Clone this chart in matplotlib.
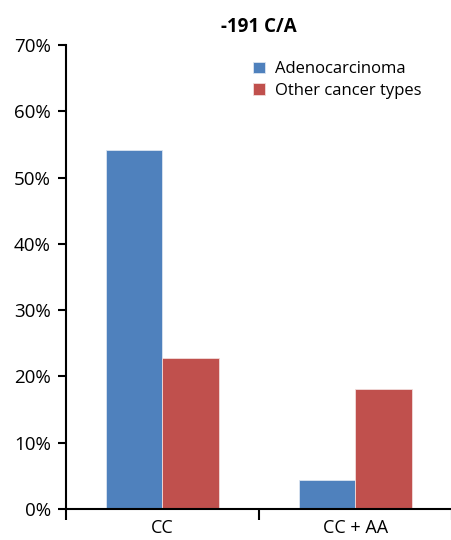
import matplotlib.pyplot as plt
import numpy as np
from matplotlib.ticker import PercentFormatter

plt.rcParams['font.family'] = ['Open Sans', 'DejaVu Sans']

genotypes = ["CC", "CC + AA"]
adeno = [54.1, 4.4]
other = [22.8, 18.1]
series_names = ["Adenocarcinoma", "Other cancer types"]

fig = plt.figure(figsize=(4.52, 5.40), dpi=100)
ax = fig.add_axes([0.146, 0.0574, 0.854, 0.8593])

x = np.arange(len(genotypes))
w = 0.293
ax.bar(x - w / 2, adeno, w, color="#4F81BD", edgecolor="#dbe5f1", linewidth=0.6, label=series_names[0])
ax.bar(x + w / 2, other, w, color="#C0504D", edgecolor="#f2dcdb", linewidth=0.6, label=series_names[1])

ax.set_xlim(-0.5, 1.5)
ax.set_ylim(0, 70)
ax.set_yticks(range(0, 71, 10))
ax.yaxis.set_major_formatter(PercentFormatter(decimals=0))
ax.set_xticks([-0.5, 0.5, 1.5])
ax.set_xticklabels([])
ax.set_xticks(x, minor=True)
ax.set_xticklabels(genotypes, minor=True)

ax.tick_params(axis='y', which='major', length=6, width=1.5, pad=5, labelsize=13.5)
ax.tick_params(axis='x', which='major', length=8, width=1.5, direction='out')
ax.tick_params(axis='x', which='minor', length=0, pad=7, labelsize=13)

for s in ['top', 'right']:
    ax.spines[s].set_visible(False)
for s in ['left', 'bottom']:
    ax.spines[s].set_linewidth(1.5)

ax.set_title("-191 C/A", fontsize=13.5, fontweight='bold', pad=9)
ax.legend(loc='upper left', bbox_to_anchor=(0.455, 0.99), frameon=False, fontsize=12,
          handlelength=0.7, handleheight=0.7, handletextpad=0.6, labelspacing=0.35,
          borderaxespad=0.3)

plt.savefig("out.png", dpi=100)
